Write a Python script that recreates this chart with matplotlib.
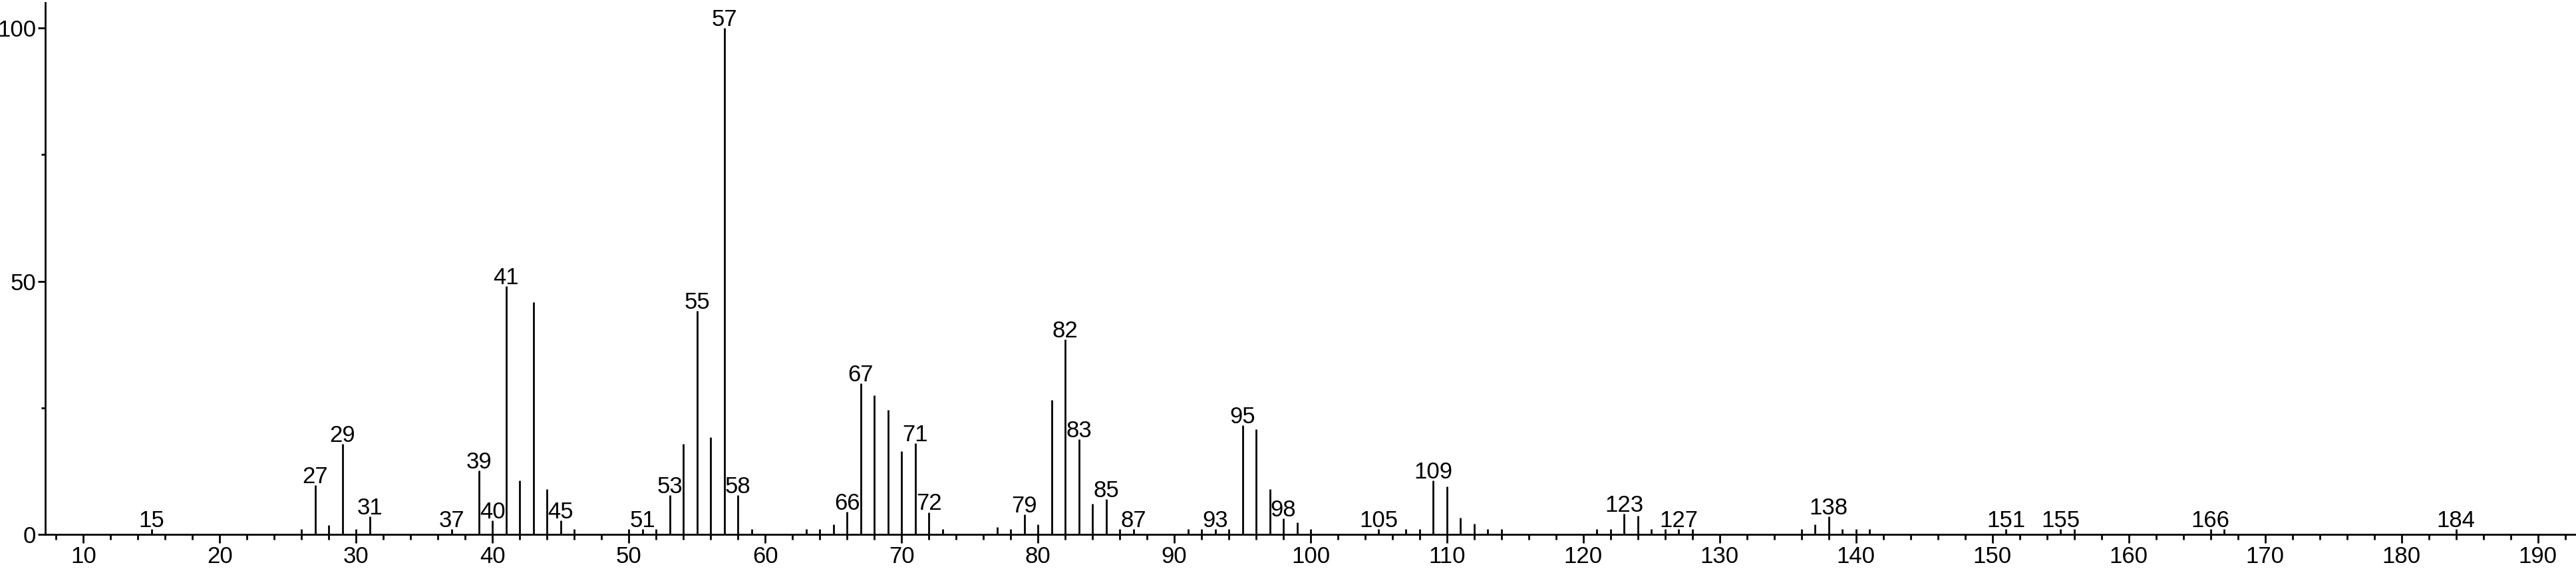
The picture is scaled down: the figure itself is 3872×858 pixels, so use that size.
import matplotlib
matplotlib.use("Agg")
import matplotlib.pyplot as plt
from matplotlib.ticker import MultipleLocator, FixedLocator

# --- spectrum data (m/z, relative intensity) ---------------------------------
mz = [15, 26, 27, 28, 29, 30, 31, 37, 39, 40, 41, 42, 43, 44, 45, 46,
      50, 51, 52, 53, 54, 55, 56, 57, 58, 59, 63, 64, 65, 66, 67, 68, 69,
      70, 71, 72, 73, 77, 78, 79, 80, 81, 82, 83, 84, 85, 86, 87,
      91, 92, 93, 94, 95, 96, 97, 98, 99, 100, 105, 107, 108, 109, 110,
      111, 112, 113, 114, 121, 122, 123, 124, 125, 126, 127, 128,
      136, 137, 138, 139, 140, 141, 151, 155, 156, 166, 167, 184]
intensity = [1.1, 1.1, 9.7, 1.9, 17.9, 1.1, 3.5, 1.1, 12.6, 2.7, 49.0, 10.6,
             45.8, 9.0, 2.7, 1.1,
             1.1, 1.1, 1.1, 7.8, 17.9, 44.1, 19.2, 100.0, 7.8, 1.1, 1.1, 1.1,
             2.0, 4.5, 29.8, 27.4, 24.6,
             16.4, 18.0, 4.4, 1.1, 1.5, 1.1, 3.9, 2.0, 26.6, 38.5, 18.8, 6.0,
             6.9, 1.1, 1.1,
             1.1, 1.1, 1.1, 1.1, 21.6, 20.8, 9.0, 3.2, 2.4, 1.1, 1.1, 1.1, 1.1,
             10.7, 9.5,
             3.3, 2.1, 1.1, 1.1, 1.1, 1.1, 4.1, 3.7, 1.1, 1.1, 1.1, 1.1,
             1.1, 2.0, 3.6, 1.1, 1.1, 1.1, 1.1, 1.1, 1.1, 1.1, 1.1, 1.1]
labelled = [15, 27, 29, 31, 37, 39, 40, 41, 45, 51, 53, 55, 57, 58, 66, 67,
            71, 72, 79, 82, 83, 85, 87, 93, 95, 98, 105, 109, 123, 127, 138,
            151, 155, 166, 184]
x_ticks = list(range(10, 200, 10))
y_ticks = [0, 50, 100]

FONT = ["Liberation Sans", "Arial", "DejaVu Sans"]
FS = 25

fig = plt.figure(figsize=(38.72, 8.58), dpi=100)
fig.patch.set_facecolor("white")
ax = fig.add_axes([68 / 3872, 55 / 858, 1 - 68 / 3872, 799 / 858])

ax.vlines(mz, 0, intensity, color="black", linewidth=2.0)

for m, v in zip(mz, intensity):
    if m in labelled:
        ax.annotate(str(m), (m, v), xytext=(0, 2.2), textcoords="offset points",
                    ha="center", va="baseline", fontsize=FS, family=FONT)

ax.set_xlim(7.2, 192.8)
ax.set_ylim(0, 105)

for s in ("top", "right"):
    ax.spines[s].set_visible(False)
for s in ("left", "bottom"):
    ax.spines[s].set_linewidth(2.0)
    ax.spines[s].set_color("black")

ax.xaxis.set_major_locator(FixedLocator(x_ticks))
ax.xaxis.set_minor_locator(MultipleLocator(2))
ax.yaxis.set_major_locator(FixedLocator(y_ticks))
ax.yaxis.set_minor_locator(FixedLocator([25, 75]))

ax.tick_params(axis="x", which="major", direction="out", length=9.5, width=2.0,
               pad=3, labelsize=FS)
ax.tick_params(axis="x", which="minor", direction="out", length=5.5, width=2.0)
ax.tick_params(axis="y", which="major", direction="out", length=8, width=2.0,
               pad=2, labelsize=FS)
ax.tick_params(axis="y", which="minor", direction="out", length=4.5, width=2.0)
for lbl in ax.get_xticklabels() + ax.get_yticklabels():
    lbl.set_family(FONT)

fig.savefig("out.png", dpi=100, facecolor="white")
